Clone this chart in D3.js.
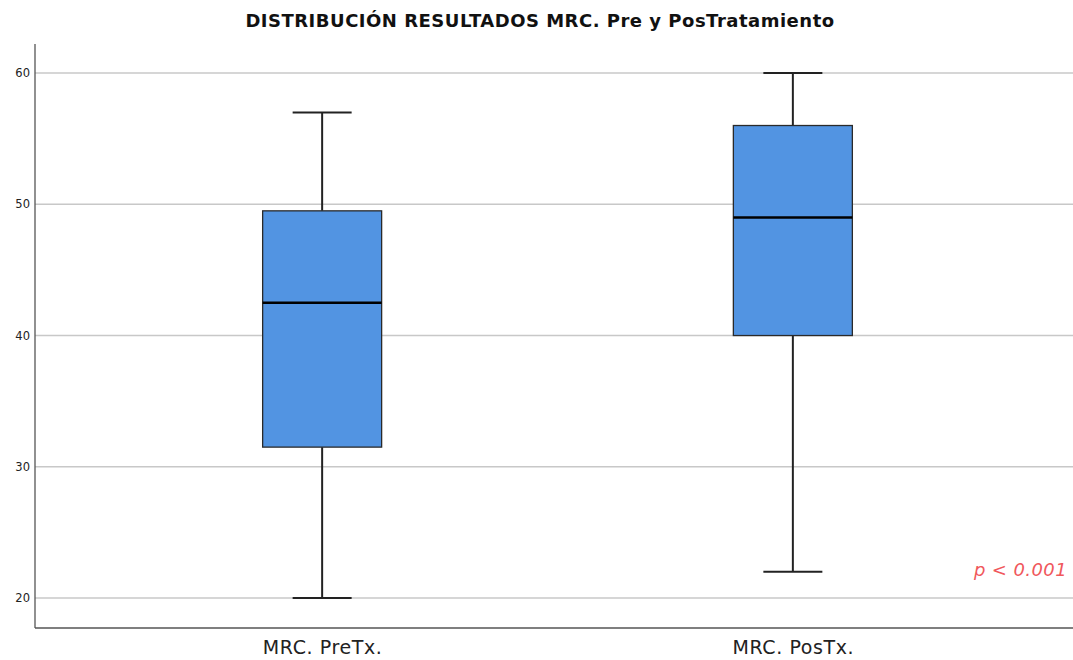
<!DOCTYPE html>
<html><head><meta charset="utf-8">
<script src="https://cdn.jsdelivr.net/npm/d3@7"></script>
<style>body{margin:0;background:#fff}svg{display:block}</style>
</head><body>
<svg id="c" width="1073" height="660"></svg>
<script>
const categories = ["MRC. PreTx.", "MRC. PosTx."];
const mins = [20, 22];
const q1s = [31.5, 40];
const medians = [42.5, 49];
const q3s = [49.5, 56];
const maxs = [57, 60];
const yTicks = [20, 30, 40, 50, 60];
const title = "DISTRIBUCIÓN RESULTADOS MRC. Pre y PosTratamiento";
const note = "p < 0.001";

(function(){
const svg = d3.select("#c");
const pl = 35, pr = 1073, pt = 44, pb = 628;
const y = d3.scaleLinear().domain([17.72, 62.21]).range([pb, pt]);
const x = d3.scalePoint().domain(categories).range([35, 1080]).padding(0.61);
const boxW = 119, capW = 59;

// gridlines
svg.append("g").selectAll("line").data(yTicks).join("line")
  .attr("x1", pl).attr("x2", pr)
  .attr("y1", d => y(d)).attr("y2", d => y(d))
  .attr("stroke", "#c8c8c8").attr("stroke-width", 1.5);

// axes
const yAxis = d3.axisLeft(y).tickValues(yTicks).tickSize(0).tickPadding(5);
const gy = svg.append("g").attr("transform", `translate(${pl},0)`).call(yAxis);
gy.select(".domain").remove();
gy.selectAll("text").attr("font-family", "DejaVu Sans, sans-serif").attr("font-size", 11.5).attr("fill", "#222");
svg.append("line").attr("x1", pl).attr("x2", pl).attr("y1", pt).attr("y2", pb).attr("stroke", "#555").attr("stroke-width", 1.3);
svg.append("line").attr("x1", pl).attr("x2", pr).attr("y1", pb).attr("y2", pb).attr("stroke", "#555").attr("stroke-width", 1.3);

const xAxis = d3.axisBottom(x).tickSize(0).tickPadding(13);
const gx = svg.append("g").attr("transform", `translate(0,${pb})`).call(xAxis);
gx.select(".domain").remove();
gx.selectAll("text").attr("font-family", "DejaVu Sans, sans-serif").attr("font-size", 19)
  .attr("letter-spacing", "0.6px").attr("fill", "#222");

const data = categories.map((c, i) => ({c, min: mins[i], q1: q1s[i], med: medians[i], q3: q3s[i], max: maxs[i]}));
const g = svg.append("g").selectAll("g").data(data).join("g");
// whiskers
g.append("line").attr("x1", d => x(d.c)).attr("x2", d => x(d.c))
  .attr("y1", d => y(d.max)).attr("y2", d => y(d.q3)).attr("stroke", "#222").attr("stroke-width", 2);
g.append("line").attr("x1", d => x(d.c)).attr("x2", d => x(d.c))
  .attr("y1", d => y(d.q1)).attr("y2", d => y(d.min)).attr("stroke", "#222").attr("stroke-width", 2);
g.append("line").attr("x1", d => x(d.c) - capW/2).attr("x2", d => x(d.c) + capW/2)
  .attr("y1", d => y(d.max)).attr("y2", d => y(d.max)).attr("stroke", "#222").attr("stroke-width", 2);
g.append("line").attr("x1", d => x(d.c) - capW/2).attr("x2", d => x(d.c) + capW/2)
  .attr("y1", d => y(d.min)).attr("y2", d => y(d.min)).attr("stroke", "#222").attr("stroke-width", 2);
// box
g.append("rect").attr("x", d => x(d.c) - boxW/2).attr("width", boxW)
  .attr("y", d => y(d.q3)).attr("height", d => y(d.q1) - y(d.q3))
  .attr("fill", "#5294e2").attr("stroke", "#2a2a2a").attr("stroke-width", 1.3);
g.append("line").attr("x1", d => x(d.c) - boxW/2).attr("x2", d => x(d.c) + boxW/2)
  .attr("y1", d => y(d.med)).attr("y2", d => y(d.med)).attr("stroke", "#000").attr("stroke-width", 2.5);

svg.append("text").attr("x", 540).attr("y", 27).attr("text-anchor", "middle")
  .attr("font-family", "DejaVu Sans, sans-serif").attr("font-weight", "bold").attr("font-size", 18)
  .attr("letter-spacing", "0.5px").attr("fill", "#111").text(title);

svg.append("text").attr("x", 1067).attr("y", 576).attr("text-anchor", "end")
  .attr("font-family", "DejaVu Sans, sans-serif").attr("font-style", "italic").attr("font-size", 18)
  .attr("letter-spacing", "0.4px").attr("fill", "#f0585c").text(note);
})();
</script>
</body></html>
